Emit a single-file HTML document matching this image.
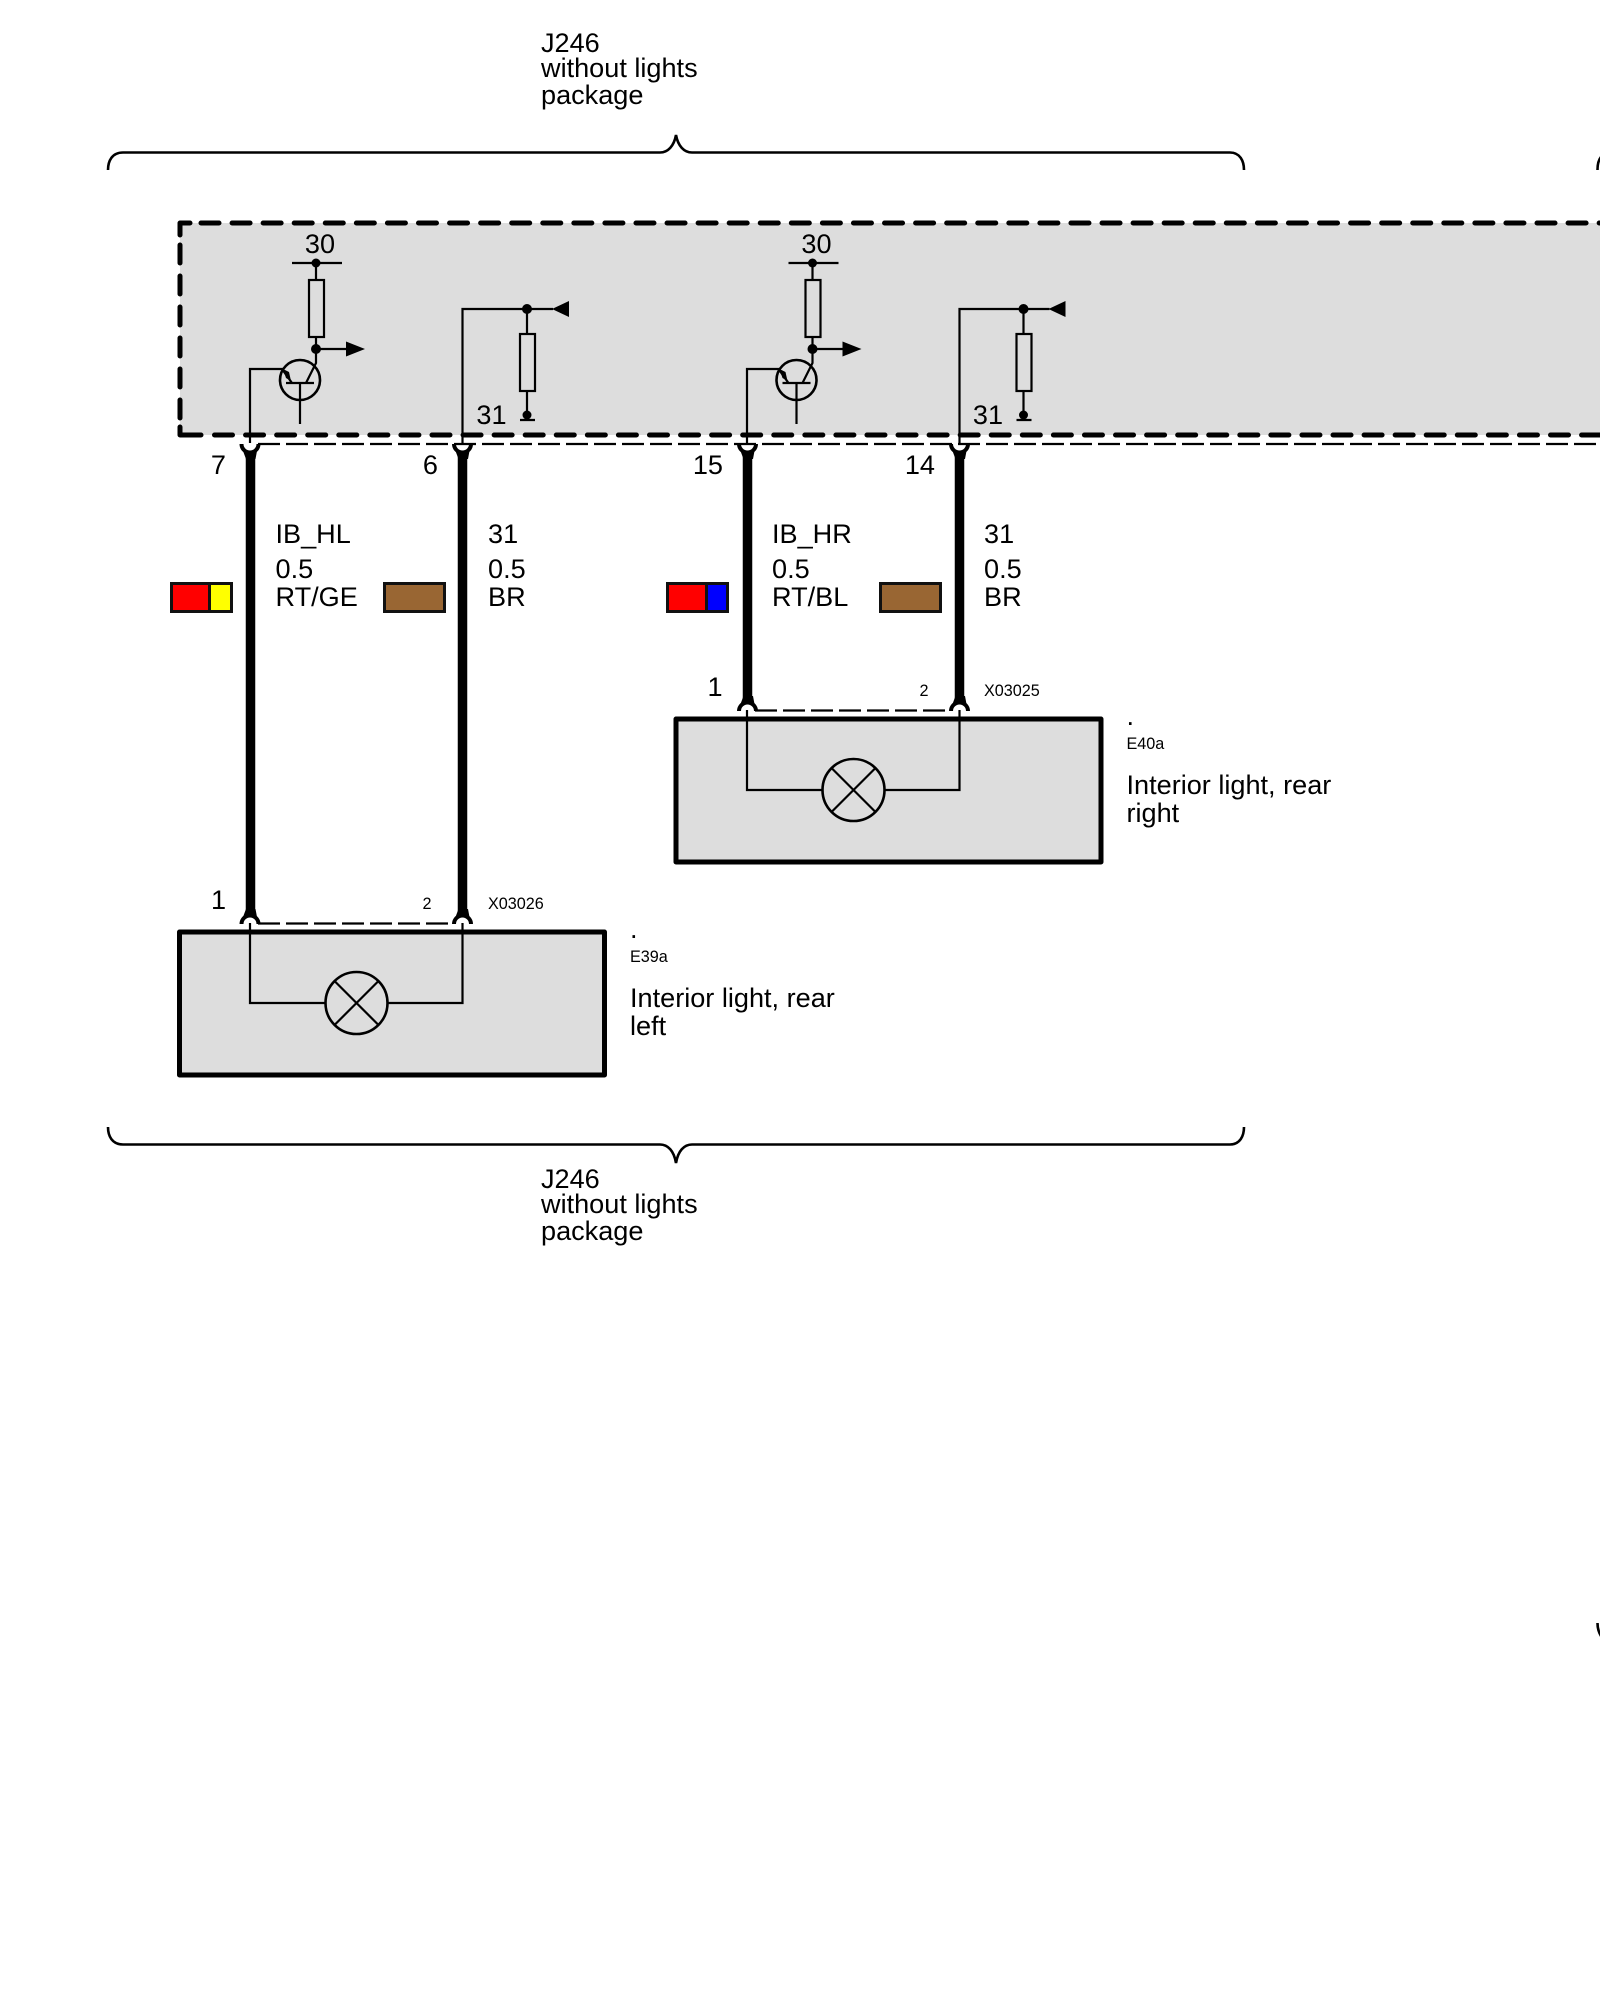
<!DOCTYPE html>
<html><head><meta charset="utf-8"><style>
html,body{margin:0;padding:0;background:#fff}
svg{display:block}
text{font-family:"Liberation Sans",sans-serif;font-size:27.1px;fill:#000}
.s{font-size:16.2px}
.w{fill:none;stroke:#000;stroke-width:2.2}
.f{fill:#000;stroke:none}
.h{fill:none;stroke:#000;stroke-width:9.5}
.c{fill:none;stroke:#000;stroke-width:4}
.d{fill:none;stroke:#000;stroke-width:2.2;stroke-dasharray:22 6}
.b{fill:#ddd;stroke:#000;stroke-width:5;stroke-linejoin:round}
.k{fill:none;stroke:#000;stroke-width:2.6}
.o{fill:none;stroke:#000;stroke-width:5;stroke-linecap:round;stroke-linejoin:round}
</style></head><body>
<svg width="1600" height="2000" viewBox="0 0 1600 2000" xmlns="http://www.w3.org/2000/svg">
<rect width="1600" height="2000" fill="#fff"/>

<!-- braces -->
<path class="k" d="M108 170C108 161 112 152.500 123 152.500H660C668 152.500 674 146 676 135C678 146 684 152.500 692 152.500H1230C1240 152.500 1244 161 1244 170"/>
<path class="k" d="M108 1127C108 1136 112 1144.500 123 1144.500H660C668 1144.500 674 1151 676 1163C678 1151 684 1144.500 692 1144.500H1230C1240 1144.500 1244 1136 1244 1127"/>
<path class="k" d="M1597.500 170C1597.500 164 1598.500 160 1601 157"/>
<path class="k" d="M1597.500 1623C1597.500 1628 1598.500 1632 1601 1636"/>

<text x="541" y="52">J246</text>
<text x="541" y="77">without lights</text>
<text x="541" y="104">package</text>
<text x="541" y="1188">J246</text>
<text x="541" y="1213">without lights</text>
<text x="541" y="1240">package</text>

<!-- control unit -->
<rect x="180" y="223" width="1450" height="212" fill="#ddd"/>
<path class="o" d="M180 235V223H190"/>
<path class="o" d="M201 223H1610" stroke-dasharray="18 13.07"/>
<path class="o" d="M180 245V418" stroke-dasharray="18 13"/>
<path class="o" d="M180 427V435H201"/>
<path class="o" d="M214.500 435H1610" stroke-dasharray="18 13.07"/>
<path class="d" d="M258 444H1610"/>

<!-- circuit A -->
<path class="w" d="M292 263H342M316 263V280M316 337V363L306 383"/>
<circle class="f" cx="316" cy="263" r="4.500"/>
<rect class="w" x="309" y="280" width="15" height="57"/>
<circle class="f" cx="316" cy="349" r="5"/>
<path class="w" d="M316 349H348"/>
<path class="f" d="M346 341.500L365 349L346 356.500Z"/>
<circle class="k" cx="300" cy="380" r="20"/>
<path class="w" d="M286 383H314M300 383V424M250 443V369H282L292 383"/>
<path class="f" d="M283 369L289 372L291 381L286 378Z"/>
<path class="w" d="M462.500 443V309H553M527 309V334M527 391V413M520 420H535"/>
<circle class="f" cx="527" cy="309" r="5"/>
<circle class="f" cx="527" cy="415" r="4.500"/>
<rect class="w" x="520" y="334" width="15" height="57"/>
<path class="f" d="M552 309L569 301V317Z"/>

<!-- circuit B -->
<g transform="translate(-0.5,0)">
<path class="w" d="M789 263H839M813 263V280M813 337V363L803 383"/>
<circle class="f" cx="813" cy="263" r="4.500"/>
<rect class="w" x="806" y="280" width="15" height="57"/>
<circle class="f" cx="813" cy="349" r="5"/>
<path class="w" d="M813 349H845"/>
<path class="f" d="M843 341.500L862 349L843 356.500Z"/>
<circle class="k" cx="797" cy="380" r="20"/>
<path class="w" d="M783 383H811M797 383V424M747.500 443V369H779L789 383"/>
<path class="f" d="M780 369L786 372L788 381L783 378Z"/>
<path class="w" d="M960 443V309H1050M1024 309V334M1024 391V413M1017 420H1032"/>
<circle class="f" cx="1024" cy="309" r="5"/>
<circle class="f" cx="1024" cy="415" r="4.500"/>
<rect class="w" x="1017" y="334" width="15" height="57"/>
<path class="f" d="M1049 309L1066 301V317Z"/>
</g>

<text x="320" y="253" text-anchor="middle">30</text>
<text x="816.500" y="253" text-anchor="middle">30</text>
<text x="491.500" y="424" text-anchor="middle">31</text>
<text x="988" y="424" text-anchor="middle">31</text>

<!-- top sockets -->
<g id="top-sockets">
<path class="c" d="M241.500 444A8.500 8.500 0 0 0 258.500 444"/>
<path class="c" d="M454 444A8.500 8.500 0 0 0 471 444"/>
<path class="c" d="M739 444A8.500 8.500 0 0 0 756 444"/>
<path class="c" d="M951 444A8.500 8.500 0 0 0 968 444"/>
<path class="f" d="M246 459L243 451L250 453.500L257 451L255.500 459Z"/>
<path class="f" d="M458.500 459L455.500 451L462.500 453.500L469.500 451L468 459Z"/>
<path class="f" d="M743.500 459L740.500 451L747.500 453.500L754.500 451L753 459Z"/>
<path class="f" d="M955.500 459L952.500 451L959.500 453.500L966.500 451L965 459Z"/>
</g>

<!-- thick wires -->
<path class="h" d="M250.500 456V912M462.500 456V912M747.500 456V699M959.500 456V699"/>

<!-- pin labels -->
<text x="226" y="474" text-anchor="end">7</text>
<text x="438" y="474" text-anchor="end">6</text>
<text x="723" y="474" text-anchor="end">15</text>
<text x="935" y="474" text-anchor="end">14</text>

<!-- wire labels -->
<text x="275.500" y="543">IB_HL</text><text x="275.500" y="578">0.5</text><text x="275.500" y="606">RT/GE</text>
<text x="488" y="543">31</text><text x="488" y="578">0.5</text><text x="488" y="606">BR</text>
<text x="772" y="543">IB_HR</text><text x="772" y="578">0.5</text><text x="772" y="606">RT/BL</text>
<text x="984" y="543">31</text><text x="984" y="578">0.5</text><text x="984" y="606">BR</text>

<!-- colour keys -->
<g stroke="#111" stroke-width="3">
<rect x="171.500" y="583.500" width="60" height="28" fill="#f00"/>
<rect x="209.500" y="583.500" width="22" height="28" fill="#ff0"/>
<rect x="384.500" y="583.500" width="60" height="28" fill="#963"/>
<rect x="667.500" y="583.500" width="60" height="28" fill="#f00"/>
<rect x="706.500" y="583.500" width="21" height="28" fill="#00f"/>
<rect x="880.500" y="583.500" width="60" height="28" fill="#963"/>
</g>

<!-- lower left component -->
<path class="d" d="M258 923.500H454"/>
<rect class="b" x="179.500" y="932" width="425" height="143"/>
<path class="w" d="M250 923V1003H326M388 1003H462.500V923"/>
<circle class="k" cx="356.500" cy="1003" r="31"/>
<path class="w" d="M334.500 981L378.500 1025M378.500 981L334.500 1025"/>
<path class="c" d="M241.500 924A8.500 8.500 0 0 1 258.500 924"/>
<path class="c" d="M454 924A8.500 8.500 0 0 1 471 924"/>
<path class="f" d="M246 909L243 917L250 914.500L257 917L255.500 909Z"/>
<path class="f" d="M458.500 909L455.500 917L462.500 914.500L469.500 917L468 909Z"/>
<text x="218.500" y="909" text-anchor="middle">1</text>
<text class="s" x="427" y="909" text-anchor="middle">2</text>
<text class="s" x="488" y="909">X03026</text>
<text x="630" y="938">.</text>
<text class="s" x="630" y="962">E39a</text>
<text x="630" y="1007">Interior light, rear</text>
<text x="630" y="1035">left</text>

<!-- lower right component -->
<path class="d" d="M755 710.500H951"/>
<rect class="b" x="676" y="719" width="425" height="143"/>
<path class="w" d="M747 710V790H823M885 790H959.500V710"/>
<circle class="k" cx="853.500" cy="790" r="31"/>
<path class="w" d="M831.500 768L875.500 812M875.500 768L831.500 812"/>
<path class="c" d="M739 711A8.500 8.500 0 0 1 756 711"/>
<path class="c" d="M951 711A8.500 8.500 0 0 1 968 711"/>
<path class="f" d="M743.500 696L740.500 704L747.500 701.500L754.500 704L753 696Z"/>
<path class="f" d="M955.500 696L952.500 704L959.500 701.500L966.500 704L965 696Z"/>
<text x="715" y="696" text-anchor="middle">1</text>
<text class="s" x="924" y="696" text-anchor="middle">2</text>
<text class="s" x="984" y="696">X03025</text>
<text x="1126.500" y="725">.</text>
<text class="s" x="1126.500" y="749">E40a</text>
<text x="1126.500" y="794">Interior light, rear</text>
<text x="1126.500" y="822">right</text>
</svg>
</body></html>
